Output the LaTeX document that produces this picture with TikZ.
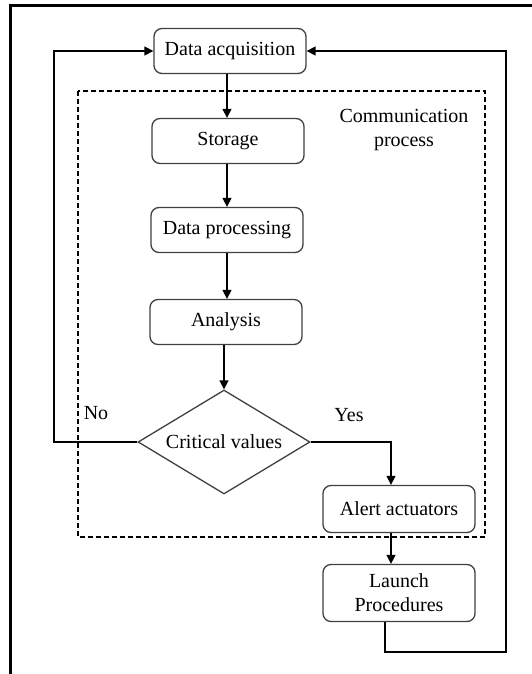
\documentclass[tikz,border=0pt]{standalone}
\usepackage{fontspec}
\setmainfont{Liberation Serif}
\usepackage{tikz}
\usetikzlibrary{positioning,arrows.meta,shapes.geometric,calc}
\definecolor{boxline}{HTML}{404040}

\begin{document}
\begin{tikzpicture}[
    x=1pt, y=-1pt,
    stage/.style={draw=boxline, line width=1.3pt, rounded corners=8pt, fill=white, minimum width=152pt, minimum height=45pt, align=center, font=\fontsize{20}{24}\selectfont, inner sep=2pt},
    decision/.style={draw=boxline, line width=1.3pt, diamond, aspect=1.65, minimum width=172pt, minimum height=104pt, inner sep=0pt, font=\fontsize{20}{24}\selectfont},
    arrow/.style={-{Triangle[length=9pt,width=9pt]}, line width=1.4pt},
    lbl/.style={font=\fontsize{20}{24}\selectfont, align=center},
]
\useasboundingbox (0,0) rectangle (532,674);
\draw[line width=3pt] (10,674) -- (10,6) -- (532,6);

\draw[dashed, dash pattern=on 5pt off 3pt, line width=1.2pt] (78,91) rectangle (485,537);
\node[lbl] (commlbl) at (404,130) {Communication\\process};

\node[stage] (acq) at (230,51) {Data acquisition};
\node[stage] (store) at (228,141) {Storage};
\node[stage] (proc) at (227,230) {Data processing};
\node[stage] (anal) at (226,322) {Analysis};
\node[decision] (crit) at (224,442) {Critical values};
\node[stage, minimum height=47pt] (alert) at (399,509) {Alert actuators};
\node[stage, minimum height=57pt] (launch) at (399,593) {Launch\\Procedures};

\node[lbl] (nolbl) at (96,413) {No};
\node[lbl] (yeslbl) at (349,415) {Yes};

\coordinate (nocorner) at (54,442);
\coordinate (backcorner) at (506,652);

\draw[arrow] (acq.south -| proc) -- (store.north -| proc);
\draw[arrow] (store.south -| proc) -- (proc);
\draw[arrow] (proc) -- (proc |- anal.north);
\draw[arrow] (anal.south -| crit) -- (crit);
\draw[arrow] (crit.west) -- (nocorner) |- (acq.west);
\draw[arrow] (crit.east) -| ([xshift=-8pt]alert.north);
\draw[arrow] ([xshift=-8pt]alert.south) -- ([xshift=-8pt]launch.north);
\draw[arrow] ([xshift=-14pt]launch.south) |- (backcorner) |- (acq.east);
\end{tikzpicture}
\end{document}
